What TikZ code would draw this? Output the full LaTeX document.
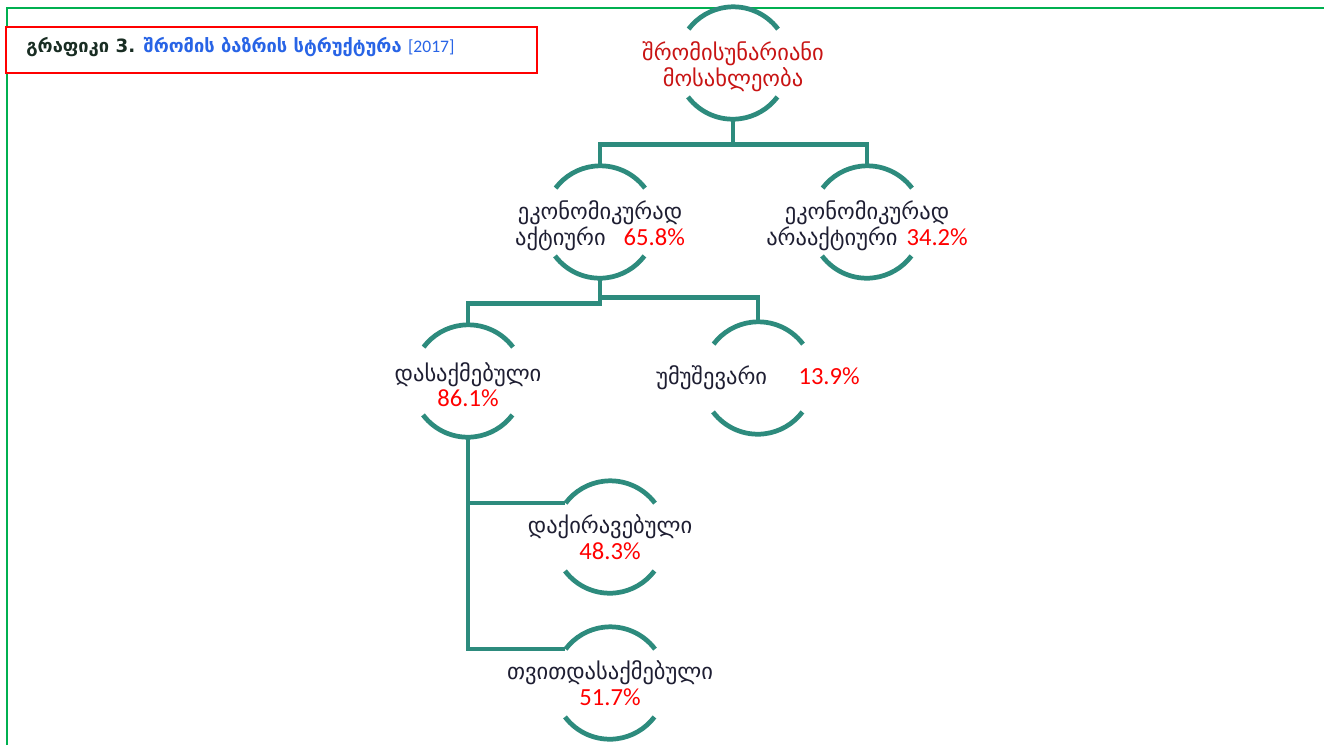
\documentclass[tikz,border=0pt]{standalone}
\usepackage{fontspec}
\setmainfont{DejaVu Sans}
\newfontfamily\numfont{Carlito}
\definecolor{ringcol}{RGB}{45,139,125}
\definecolor{framegreen}{RGB}{0,176,80}
\definecolor{ink}{RGB}{30,30,50}
\definecolor{topred}{RGB}{200,20,20}
\definecolor{pctred}{RGB}{255,0,0}
\definecolor{titleink}{RGB}{25,45,35}
\definecolor{titleblue}{RGB}{40,100,230}
\newcommand{\pct}[1]{{\numfont\fontsize{14}{15}\selectfont\color{pctred}#1}}

\begin{document}
\begin{tikzpicture}[x=0.02cm,y=-0.02cm,
  ring/.style={circle,minimum size=2.24cm,inner sep=0pt},
  txt/.style={align=center,text=ink,font=\fontsize{12.8}{14.6}\selectfont},
  link/.style={draw=ringcol,line width=2.7pt}]
  \useasboundingbox (0,0) rectangle (1324,745);
  % frame and title
  \draw[framegreen,line width=1.1pt] (7,745) -- (7,8) -- (1324,8);
  \draw[red,line width=0.9pt,fill=white] (6,27) rectangle (537,73);
  \node[anchor=west,inner sep=0pt,font=\bfseries\fontsize{10.4}{12}\selectfont] (title) at (26,47)
    {\color{titleink}გრაფიკი 3. \color{titleblue}შრომის ბაზრის სტრუქტურა {\mdseries\numfont\fontsize{10}{10}\selectfont[2017]}};
  % rings
  \node[ring] (top) at (733,63) {};
  \node[ring] (act) at (600,222) {};
  \node[ring] (inact) at (867,222) {};
  \node[ring] (emp) at (468,381) {};
  \node[ring] (unemp) at (758,378) {};
  \node[ring] (hired) at (610,537) {};
  \node[ring] (self) at (610,683) {};
  \foreach \n in {top,act,inact,emp,unemp,hired,self} {
    \draw[link] (\n.37) arc[start angle=37,end angle=143,radius=1.12cm];
    \draw[link] (\n.217) arc[start angle=217,end angle=323,radius=1.12cm];
  }
  % texts
  \node[txt,text=topred] (top-t) at ([yshift=-2pt]top) {შრომისუნარიანი\\მოსახლეობა};
  \node[txt] (act-t) at ([yshift=-2pt]act) {ეკონომიკურად\\აქტიური\hspace{0.8em}\pct{65.8\%}};
  \node[txt] (inact-t) at ([yshift=-2pt]inact) {ეკონომიკურად\\არააქტიური\hspace{0.4em}\pct{34.2\%}};
  \node[txt] (emp-t) at ([yshift=-2pt]emp) {დასაქმებული\\\pct{86.1\%}};
  \node[txt] (unemp-t) at (unemp) {უმუშევარი\hspace{1.4em}\pct{13.9\%}};
  \node[txt] (hired-t) at (hired) {დაქირავებული\\\pct{48.3\%}};
  \node[txt] (self-t) at (self) {თვითდასაქმებული\\\pct{51.7\%}};
  % connectors
  \draw[link] (top.south) -- ++(0,25) coordinate (j1) -| (act.north);
  \draw[link] (j1) -| (inact.north);
  \draw[link] (act.south) -- ++(0,25) -| (emp.north);
  \draw[link] (act.south) -- ++(0,19) -| (unemp.north);
  \draw[link] (emp.south) |- (hired.143);
  \draw[link] (emp.south) |- (self.143);
\end{tikzpicture}
\end{document}
